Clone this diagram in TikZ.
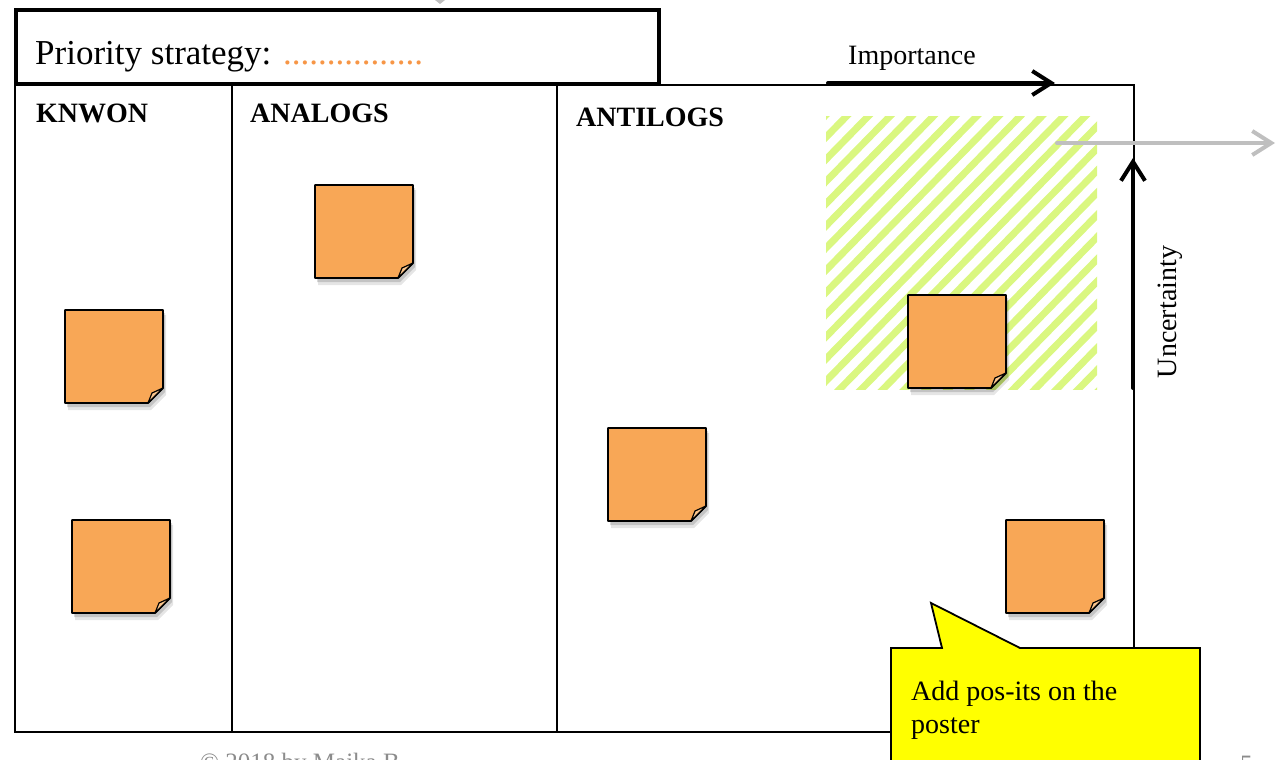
\documentclass[tikz,border=0pt]{standalone}
\usepackage{fontspec}
\setmainfont{Liberation Serif}
\usetikzlibrary{arrows.meta}

\definecolor{postitfill}{HTML}{F8A756}
\definecolor{postitcurl}{HTML}{FBC58C}
\definecolor{hatchgreen}{HTML}{DAF780}
\definecolor{calloutyellow}{HTML}{FFFF00}
\definecolor{arrowgray}{HTML}{BFBFBF}
\definecolor{dotorange}{HTML}{F79646}
\definecolor{footgray}{HTML}{8C8C8C}

\tikzset{
  x=1pt, y=-1pt,
  column/.style={draw, line width=1.8, anchor=north west, inner sep=0pt},
  header/.style={anchor=base west, inner sep=0pt, font=\fontsize{28}{32}\selectfont\bfseries},
  label/.style={inner sep=0pt, font=\fontsize{28}{32}\selectfont},
  barbtip/.style={-{Straight Barb[length=19pt, width=24pt, line width=4pt]}},
  axis/.style={line width=4, line cap=round, barbtip},
  pics/postit/.style={code={
    % soft shadow under the note
    \fill[black, opacity=0.10] (3,5) -- (101,5) -- (101,85) -- (86,100) -- (3,100) -- cycle;
    \fill[black, opacity=0.15] (2,3) -- (100,3) -- (100,82) -- (85,97) -- (2,97) -- cycle;
    % note body with the lower right corner folded
    \draw[line width=1.8, fill=postitfill, line join=round]
      (0,0) -- (98,0) -- (98,78) -- (83,93) -- (0,93) -- cycle;
    % the curled corner flap
    \draw[line width=1.2, fill=postitcurl, line join=round]
      (83,93) -- (87,83) -- (98,78) -- cycle;
  }},
}

\begin{document}
\begin{tikzpicture}
\useasboundingbox (0,0) rectangle (1278,760);

% striped area marking the high priority zone
\begin{scope}
  \clip (826,116) rectangle (1097,389);
  \foreach \i in {-15,...,15}
    \draw[hatchgreen, line width=7] ({834+\i*21.7},395) -- ({834+\i*21.7+279},110);
\end{scope}

% the three columns of the poster
\node[column, minimum width=217, minimum height=647] (known) at (14,84) {};
\node[column, minimum width=325, minimum height=647] (analogs) at (231,84) {};
\node[column, minimum width=577, minimum height=647] (antilogs) at (556,84) {};

\node[header] (knownlabel) at (36,122) {KNWON};
\node[header] (analogslabel) at (250,122) {ANALOGS};
\node[header] (antilogslabel) at (576,126) {ANTILOGS};

% title box
\node[draw, line width=4, fill=white, anchor=north west, minimum width=643, minimum height=74, inner sep=0pt] (title) at (14,8) {};
\node[anchor=base west, inner sep=0pt, font=\fontsize{35}{40}\selectfont] (titletext) at (35,65)
  {Priority strategy: \textcolor{dotorange}{................}};

% small arrow tip entering from above the title
\fill[arrowgray] (435,0) -- (445,0) -- (440,4) -- cycle;

% importance axis
\coordinate (impstart) at (828,83);
\coordinate (impend) at (1055,83);
\draw[axis] (impstart) -- (impend);
\node[label, anchor=base west] (implabel) at (848,65) {Importance};

% uncertainty axis
\coordinate (uncstart) at (1133,388);
\coordinate (uncend) at (1133,158);
\draw[axis] (uncstart) -- (uncend);
\node[label, rotate=90, anchor=base] (unclabel) at (1176,312) {Uncertainty};

% post-it notes
\pic (p1) at (65,310) {postit};
\pic (p2) at (72,520) {postit};
\pic (p3) at (315,185) {postit};
\pic (p4) at (908,295) {postit};
\pic (p5) at (608,428) {postit};
\pic (p6) at (1006,520) {postit};

% grey arrow leaving the striped area
\coordinate (graystart) at (1057,143);
\coordinate (grayend) at (1275,143);
\draw[arrowgray, line width=4, line cap=round, barbtip] (graystart) -- (grayend);

% speech bubble
\draw[line width=1.8, fill=calloutyellow, line join=miter]
  (891,648) -- (942,648) -- (931,603) -- (1020,648) -- (1200,648) -- (1200,790) -- (891,790) -- cycle;
\node[label, anchor=base west] (bubbletext) at (911,700) {Add pos-its on the};
\node[label, anchor=base west] (bubbletext2) at (911,733) {poster};

% footer, running off the lower edge
\node[anchor=base west, inner sep=0pt, text=footgray, font=\fontsize{25}{30}\selectfont] (footer) at (200,770) {© 2018 by Maika B};
\node[anchor=base west, inner sep=0pt, text=footgray, font=\fontsize{25}{30}\selectfont] (pagenum) at (1240,772) {5};
\end{tikzpicture}
\end{document}
